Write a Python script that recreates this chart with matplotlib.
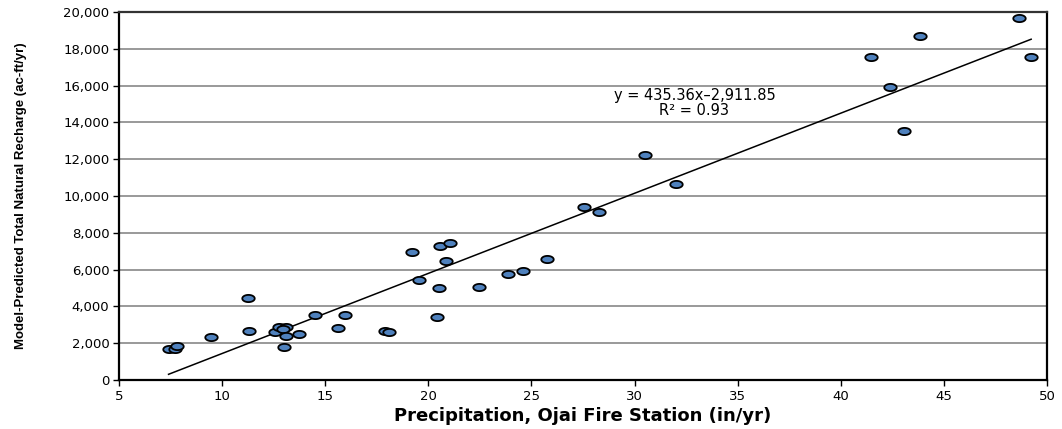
import numpy as np
from matplotlib import pyplot as plt
from matplotlib.path import Path
from matplotlib.ticker import FuncFormatter

# precipitation (in/yr) vs model recharge (ac-ft/yr)
precip = [7.4, 7.7, 7.8, 9.46, 11.27, 11.3, 12.57, 12.78, 13.1, 12.94, 13.1, 12.99,
          13.75, 14.52, 15.64, 15.98, 17.9, 18.09, 19.21, 20.57, 21.05, 20.84,
          19.53, 20.52, 22.47, 23.88, 24.61, 25.76, 20.41, 27.57, 28.25, 30.51,
          32.01, 41.45, 43.84, 42.37, 43.05, 48.62, 49.23]
recharge = [1700, 1700, 1850, 2350, 4440, 2680, 2625, 2900, 2860, 2750, 2390, 1775,
            2480, 3550, 2845, 3550, 2660, 2610, 6975, 7280, 7460, 6490,
            5420, 5000, 5070, 5780, 5900, 6590, 3420, 9400, 9110, 12210,
            10630, 17570, 18710, 15940, 13530, 19650, 17570]
slope, intercept = 435.36, -2911.85

# ellipse marker (points look stretched sideways)
t = np.linspace(0, 2 * np.pi, 60)
ell = Path(np.column_stack([np.cos(t), 0.58 * np.sin(t)]), closed=True)

fig = plt.figure(figsize=(10.62, 4.29), dpi=100)
ax = fig.add_axes([0.1121, 0.1142, 0.8738, 0.8578])

ax.set_xlim(5, 50)
ax.set_ylim(0, 20000)
ax.set_xticks(np.arange(5, 51, 5))
ax.set_yticks(np.arange(0, 20001, 2000))
ax.yaxis.set_major_formatter(FuncFormatter(lambda v, p: '{:,.0f}'.format(v)))
ax.grid(axis='y', color='#999999', lw=1.4)
ax.set_axisbelow(True)

for side in ['left', 'bottom', 'right']:
    ax.spines[side].set_linewidth(1.6)
    ax.spines[side].set_color('black')
ax.spines['top'].set_linewidth(1.6)
ax.spines['top'].set_color('#333333')
ax.tick_params(direction='out', length=4, width=1, labelsize=9.5, pad=3)

xl = np.array([min(precip), max(precip)])
ax.plot(xl, slope * xl + intercept, color='black', lw=1.1, zorder=2)
ax.scatter(precip, recharge, marker=ell, s=80, facecolor='#4F81BD',
           edgecolor='black', linewidth=1.3, zorder=3)

ax.text(32.9, 15050, 'y = 435.36x\u20132,911.85\nR\u00b2 = 0.93', ha='center',
        va='center', fontsize=10.5, linespacing=1.0)

ax.set_xlabel('Precipitation, Ojai Fire Station (in/yr)', fontsize=13,
              fontweight='bold', labelpad=3)
ax.set_ylabel('Model-Predicted Total Natural Recharge (ac-ft/yr)', fontsize=9.5,
              fontweight='bold', family=['Liberation Sans', 'DejaVu Sans'],
              labelpad=26)

fig.savefig('out.png', dpi=100)
